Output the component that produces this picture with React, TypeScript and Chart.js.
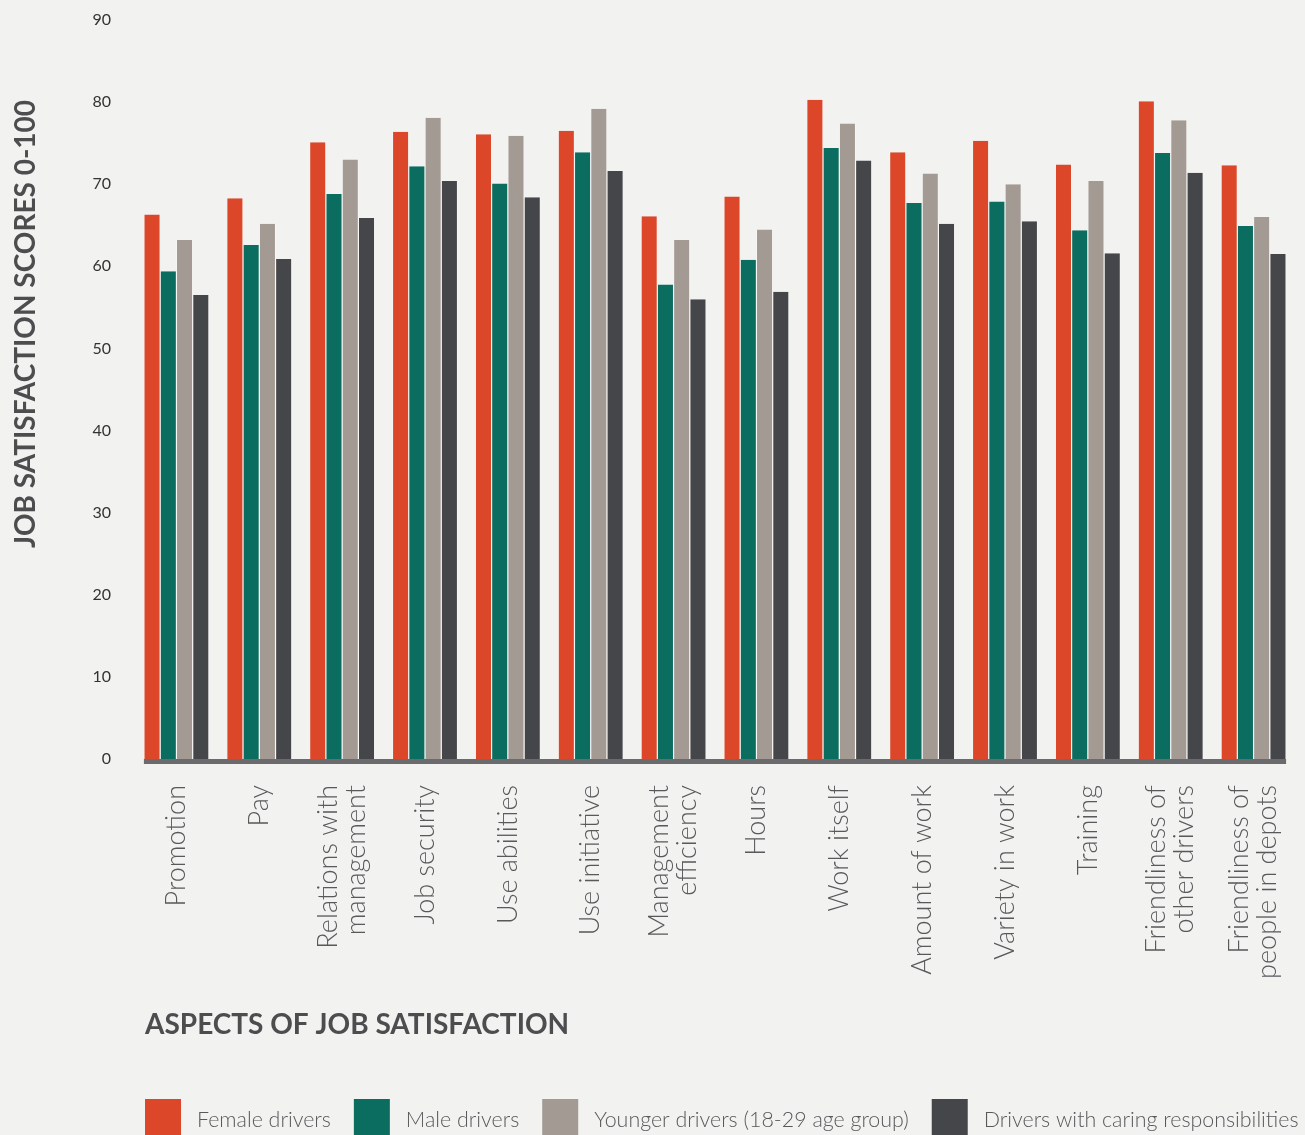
import React, { useEffect, useRef } from "react";
import { Chart, registerables } from "chart.js";

Chart.register(...registerables);

const categories: string[][] = [
  ["Promotion"],
  ["Pay"],
  ["Relations with", "management"],
  ["Job security"],
  ["Use abilities"],
  ["Use initiative"],
  ["Management", "efficiency"],
  ["Hours"],
  ["Work itself"],
  ["Amount of work"],
  ["Variety in work"],
  ["Training"],
  ["Friendliness of", "other drivers"],
  ["Friendliness of", "people in depots"],
];

const seriesLabels = [
  "Female drivers",
  "Male drivers",
  "Younger drivers (18-29 age group)",
  "Drivers with caring responsibilities",
];

const seriesColors = ["#dc4729", "#0a6d60", "#a39a94", "#454649"];

const femaleDrivers = [66.3, 68.3, 75.1, 76.4, 76.1, 76.5, 66.1, 68.5, 80.3, 73.9, 75.3, 72.4, 80.1, 72.3];
const maleDrivers = [59.4, 62.6, 68.8, 72.2, 70.1, 73.9, 57.8, 60.8, 74.4, 67.7, 67.9, 64.4, 73.8, 64.9];
const youngerDrivers = [63.2, 65.2, 73.0, 78.1, 75.9, 79.2, 63.2, 64.5, 77.4, 71.3, 70.0, 70.4, 77.8, 66.0];
const caringDrivers = [56.5, 60.9, 65.9, 70.4, 68.4, 71.6, 56.0, 56.9, 72.9, 65.2, 65.5, 61.6, 71.4, 61.5];

const yTickValues = [0, 10, 20, 30, 40, 50, 60, 70, 80, 90];

const yTitle = "JOB SATISFACTION SCORES 0-100";
const xTitle = "ASPECTS OF JOB SATISFACTION";

const W = 1305;
const H = 1135;
const FONT = "Lato, 'Open Sans', sans-serif";

const decorPlugin = {
  id: "decor",
  afterDraw(chart: any) {
    const ctx = chart.ctx as CanvasRenderingContext2D;
    const area = chart.chartArea;
    const xs = chart.scales.x;

    // axis line spanning the bars
    const firstMeta = chart.getDatasetMeta(0);
    const lastMeta = chart.getDatasetMeta(chart.data.datasets.length - 1);
    const first = firstMeta.data[0];
    const last = lastMeta.data[lastMeta.data.length - 1];
    const l = first.x - first.width / 2;
    const r = last.x + last.width / 2;
    ctx.save();
    ctx.fillStyle = "#6b6b6d";
    ctx.fillRect(l, area.bottom, r - l, 5);

    // category labels (rotated)
    ctx.font = `300 27px ${FONT}`;
    ctx.fillStyle = "#58595b";
    ctx.textAlign = "right";
    ctx.textBaseline = "middle";
    const lh = 28;
    categories.forEach((lines, i) => {
      const px = xs.getPixelForValue(i);
      ctx.save();
      ctx.translate(px, area.bottom + 26);
      ctx.rotate(-Math.PI / 2);
      lines.forEach((t, j) => {
        ctx.fillText(t, 0, (j - (lines.length - 1) / 2) * lh);
      });
      ctx.restore();
    });

    // y title
    ctx.save();
    ctx.font = `bold 28px ${FONT}`;
    ctx.fillStyle = "#4d4d4f";
    ctx.textAlign = "center";
    ctx.textBaseline = "middle";
    ctx.translate(26, 324);
    ctx.rotate(-Math.PI / 2);
    ctx.fillText(yTitle, 0, 0);
    ctx.restore();

    // x title
    ctx.font = `bold 28px ${FONT}`;
    ctx.fillStyle = "#4d4d4f";
    ctx.textAlign = "left";
    ctx.textBaseline = "middle";
    ctx.fillText(xTitle, 145, 1025);

    // legend
    ctx.font = `300 21.4px ${FONT}`;
    ctx.textBaseline = "middle";
    let lx = 145;
    chart.data.datasets.forEach((ds: any) => {
      ctx.fillStyle = ds.backgroundColor;
      ctx.fillRect(lx, 1099, 36, 36);
      ctx.fillStyle = "#58595b";
      ctx.fillText(ds.label, lx + 52, 1120);
      lx += 52 + ctx.measureText(ds.label).width + 23;
    });
    ctx.restore();
  },
};

export default function App() {
  const ref = useRef<HTMLCanvasElement | null>(null);

  useEffect(() => {
    document.body.style.margin = "0";
    document.body.style.background = "#f2f2f0";
    if (!ref.current) return;
    const seriesValues = [femaleDrivers, maleDrivers, youngerDrivers, caringDrivers];
    const chart = new Chart(ref.current, {
      type: "bar",
      data: {
        labels: categories.map((c) => c.join(" ")),
        datasets: seriesValues.map((vals, i) => ({
          label: seriesLabels[i],
          data: vals,
          backgroundColor: seriesColors[i],
          borderColor: "#ffffff",
          borderWidth: { left: 0.6, right: 0.6, top: 0, bottom: 0 },
          borderSkipped: "bottom",
          categoryPercentage: 0.785,
          barPercentage: 1,
        })),
      },
      options: {
        responsive: false,
        animation: false,
        devicePixelRatio: 1,
        layout: { padding: { top: 20, right: 10, left: 0, bottom: 0 } },
        plugins: {
          legend: { display: false },
          tooltip: { enabled: false },
          title: { display: false },
        },
        scales: {
          x: {
            grid: { display: false },
            border: { display: false },
            ticks: { display: false },
            afterFit(scale: any) {
              scale.height = 376;
            },
          },
          y: {
            min: 0,
            max: 90,
            grid: { display: false, drawTicks: false },
            border: { display: false },
            afterBuildTicks(scale: any) {
              scale.ticks = yTickValues.map((v) => ({ value: v }));
            },
            ticks: {
              padding: 24,
              color: "#333333",
              font: { family: FONT, size: 16 },
            },
            afterFit(scale: any) {
              scale.width = 135;
              scale.paddingTop = 0;
              scale.paddingBottom = 0;
            },
          },
        },
      },
      plugins: [decorPlugin],
    });
    return () => chart.destroy();
  }, []);

  return (
    <div style={{ width: W, height: H, background: "#f2f2f0", overflow: "hidden" }}>
      <canvas ref={ref} width={W} height={H} style={{ display: "block" }} />
    </div>
  );
}
